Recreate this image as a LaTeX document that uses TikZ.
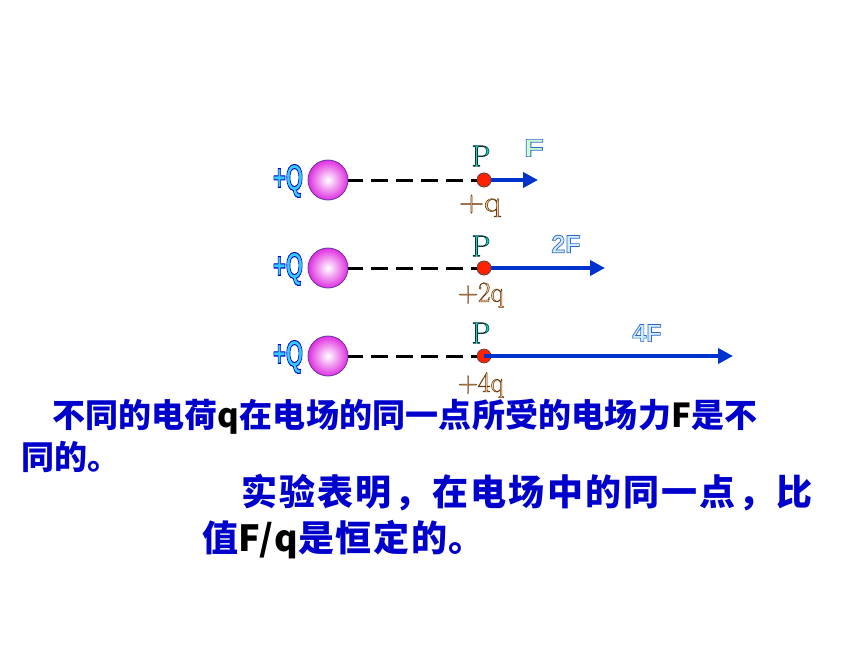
\documentclass[tikz,border=0pt]{standalone}
\usepackage{fontspec}
\usepackage{graphicx}
\usetikzlibrary{arrows.meta}
\newfontfamily\cjkA{Noto Sans CJK SC}[LetterSpace=0.6]
\newfontfamily\cjkB{Noto Sans CJK SC}[LetterSpace=6.2]
\newfontfamily\cjkC{Noto Sans CJK SC}[LetterSpace=4.5]
\newfontfamily\sansL{Liberation Sans}
\definecolor{txtblue}{HTML}{0000CC}
\definecolor{arrblue}{HTML}{0033CC}
\definecolor{qfill}{HTML}{33CCFF}
\definecolor{pfill}{HTML}{00D8D8}
\definecolor{chfill}{HTML}{FFCC99}
\definecolor{ffill}{HTML}{CCFFCC}
\definecolor{f2fill}{HTML}{CCEEFF}
\definecolor{ballout}{HTML}{E030E0}
\definecolor{ballrim}{HTML}{6633AA}
\definecolor{dotred}{HTML}{FF2200}
\newcommand\otx[4]{\textcolor{#1}{\special{pdf:literal direct #2 RG 2 Tr #3 w}#4\special{pdf:literal direct 0 Tr}}}
\tikzset{
  ball/.style={circle, minimum size=40pt, inner sep=0pt, draw=ballrim, line width=0.8pt, inner color=white, outer color=ballout},
  dotp/.style={circle, minimum size=14pt, inner sep=0pt, fill=dotred, draw=black!70, line width=0.6pt},
  dashl/.style={line width=3pt, dash pattern=on 17pt off 8pt, dash phase=2pt},
  force/.style={line width=4pt, draw=arrblue, -{Triangle[length=15pt,width=15pt]}},
  qlab/.style={inner sep=0pt, font=\sansL\bfseries\fontsize{37}{37}\selectfont},
  plab/.style={inner sep=0pt, font=\fontsize{30}{30}\selectfont},
  chlab/.style={inner sep=0pt, font=\fontsize{29}{29}\selectfont},
  flab/.style={inner sep=0pt, font=\sansL\bfseries\fontsize{25}{25}\selectfont},
  cjktext/.style={inner sep=0pt, anchor=base west, text=txtblue},
}
\begin{document}
\begin{tikzpicture}[x=1pt,y=-1pt]
\path[use as bounding box, fill=white] (0,0) rectangle (860,645);
% row 1
\node[ball] (s1) at (328,180) {};
\node[dotp] (d1) at (484,180) {};
\draw[dashl] (s1.east) -- (d1.west);
\coordinate (e1) at (538,180);
\draw[force] (d1.center) -- (e1);
\node[dotp] at (d1) {};
\node[qlab] (lq1) at (288,181) {\scalebox{0.6}[1]{\otx{qfill}{0 0 0.8}{1.0}{+Q}}};
\node[plab] (lp1) at (481,156) {\otx{pfill}{0.05 0.2 0.2}{0.6}{P}};
\node[chlab] (lc1) at (480,206) {\scalebox{1.2}[1]{\otx{chfill}{0.4 0.22 0.05}{0.5}{+q}}};
\node[flab] (lf1) at (534,148) {\scalebox{1.3}[1]{\otx{ffill}{0.2 0.4 0.8}{0.7}{F}}};
% row 2
\node[ball] (s2) at (328,268) {};
\node[dotp] (d2) at (484,268) {};
\draw[dashl] (s2.east) -- (d2.west);
\coordinate (e2) at (605,268);
\draw[force] (d2.center) -- (e2);
\node[dotp] at (d2) {};
\node[qlab] (lq2) at (288,269) {\scalebox{0.6}[1]{\otx{qfill}{0 0 0.8}{1.0}{+Q}}};
\node[plab] (lp2) at (481,246) {\otx{pfill}{0.05 0.2 0.2}{0.6}{P}};
\node[chlab] (lc2) at (481,295) {\scalebox{0.95}[1]{\otx{chfill}{0.4 0.22 0.05}{0.5}{+2q}}};
\node[flab] (lf2) at (566,244) {\otx{f2fill}{0.2 0.4 0.8}{0.7}{2F}};
% row 3
\node[ball] (s3) at (328,356) {};
\node[dotp] (d3) at (484,356) {};
\draw[dashl] (s3.east) -- (d3.west);
\coordinate (e3) at (733,356);
\draw[force] (d3.center) -- (e3);
\node[qlab] (lq3) at (288,357) {\scalebox{0.6}[1]{\otx{qfill}{0 0 0.8}{1.0}{+Q}}};
\node[plab] (lp3) at (481,333) {\otx{pfill}{0.05 0.2 0.2}{0.6}{P}};
\node[chlab] (lc3) at (481,385) {\scalebox{0.95}[1]{\otx{chfill}{0.4 0.22 0.05}{0.5}{+4q}}};
\node[flab] (lf3) at (647,333) {\otx{f2fill}{0.2 0.4 0.8}{0.7}{4F}};
% text
\node[cjktext, font=\cjkA\bfseries\fontsize{33}{33}\selectfont] (t1) at (52,427) {不同的电荷\textcolor{black}{q}在电场的同一点所受的电场力\textcolor{black}{F}是不};
\node[cjktext, font=\cjkA\bfseries\fontsize{33}{33}\selectfont] (t2) at (21,469) {同的。};
\node[cjktext, font=\cjkB\bfseries\fontsize{36}{36}\selectfont] (t3) at (241,505) {实验表明，在电场中的同一点，比};
\node[cjktext, font=\cjkC\bfseries\fontsize{36}{36}\selectfont] (t4) at (202,551) {值\textcolor{black}{F/q}是恒定的。};
\end{tikzpicture}
\end{document}
